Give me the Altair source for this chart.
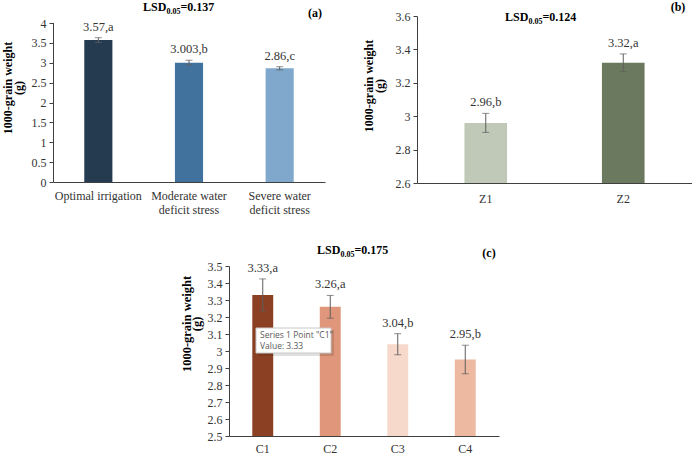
import altair as alt
import pandas as pd

SERIF = "Liberation Serif"
AXIS = "#404040"
TEXT = "#333333"
ERR = "#5e5e5e"

# (a) irrigation regime
irr_names = ["Optimal irrigation", "Moderate water deficit stress", "Severe water deficit stress"]
irr_mean = [3.57, 3.003, 2.86]
irr_err = [0.06, 0.06, 0.04]
irr_group = ["a", "b", "c"]
irr_colors = ["#243b50", "#41729d", "#7fa8cc"]
irr_ticks = [0, 0.5, 1, 1.5, 2, 2.5, 3, 3.5, 4]

# (b) zeolite
zeo_names = ["Z1", "Z2"]
zeo_mean = [2.96, 3.32]
zeo_err = [0.057, 0.053]
zeo_group = ["b", "a"]
zeo_colors = ["#c0c8b8", "#6b7a5e"]
zeo_ticks = [2.6, 2.8, 3.0, 3.2, 3.4, 3.6]

# (c) cultivar
cul_names = ["C1", "C2", "C3", "C4"]
cul_mean = [3.33, 3.26, 3.04, 2.95]
cul_err = [0.094, 0.067, 0.062, 0.084]
cul_group = ["a", "a", "b", "b"]
cul_colors = ["#8b4023", "#e0967a", "#f6d9cb", "#edb9a1"]
cul_ticks = [2.5, 2.6, 2.7, 2.8, 2.9, 3.0, 3.1, 3.2, 3.3, 3.4, 3.5]

Y_TITLE = ["1000-grain weight", "(g)"]

SPLIT_LABEL = (
    "indexof(datum.label, ' deficit') > 0 ? "
    "[slice(datum.label, 0, indexof(datum.label, ' deficit')), "
    "slice(datum.label, indexof(datum.label, ' deficit') + 1)] : datum.label"
)


def lsd_text(ann, lsd, x0, yc):
    """Bold 'LSD' with a subscript '0.05', followed by '=value'."""
    common = dict(font=SERIF, fontWeight="bold", color="black", align="left", baseline="alphabetic")
    main = ann.mark_text(text="LSD", fontSize=12, **common).encode(
        x=alt.value(x0), y=alt.value(yc + 4))
    sub = ann.mark_text(text="0.05", fontSize=8, **common).encode(
        x=alt.value(x0 + 23.5), y=alt.value(yc + 7))
    rest = ann.mark_text(text="=" + lsd, fontSize=12, **common).encode(
        x=alt.value(x0 + 37.5), y=alt.value(yc + 4))
    return [main, sub, rest]


def panel(names, mean, err, group, colors, ticks, width, height, lsd, tag,
          lsd_pos, tag_pos, title_pos, label_pad, title_size=12, top_pad=0, extra=()):
    df = pd.DataFrame({"name": names, "mean": mean, "err": err, "group": group})
    df["lo"] = df["mean"] - df["err"]
    df["hi"] = df["mean"] + df["err"]
    df["label"] = [f"{m},{g}" for m, g in zip(mean, group)]
    ymin, ymax = ticks[0], ticks[-1]
    # optional blank band above the top tick
    dom_max = ymax + top_pad * (ymax - ymin) / (height - top_pad)

    x = alt.X(
        "name:N", sort=names,
        scale=alt.Scale(paddingInner=0.69, paddingOuter=0.345),
        axis=alt.Axis(title=None, labelAngle=0, ticks=False, domainColor=AXIS,
                      labelFont=SERIF, labelFontSize=12, labelColor=TEXT,
                      labelPadding=label_pad, labelLimit=0, labelLineHeight=14,
                      labelExpr=SPLIT_LABEL),
    )
    y_axis = alt.Axis(
        values=ticks, format=".1~f", grid=False, title=None,
        domain=top_pad == 0, domainColor=AXIS, tickColor=AXIS, tickSize=4,
        labelFont=SERIF, labelFontSize=12, labelColor=TEXT, labelPadding=3,
    )
    y_scale = alt.Scale(domain=[ymin, dom_max], nice=False, zero=False)

    def yenc(field):
        return alt.Y(field, scale=y_scale, axis=y_axis)

    base = alt.Chart(df).encode(x=x)
    bars = base.mark_bar().encode(
        y=yenc("mean:Q"), y2=alt.datum(ymin),
        color=alt.Color("name:N", scale=alt.Scale(domain=names, range=colors), legend=None),
    )
    whisker = base.mark_rule(color=ERR, strokeWidth=1).encode(y=yenc("lo:Q"), y2="hi:Q")
    cap_lo = base.mark_tick(color=ERR, size=7, thickness=1).encode(y=yenc("lo:Q"))
    cap_hi = base.mark_tick(color=ERR, size=7, thickness=1).encode(y=yenc("hi:Q"))
    values = base.mark_text(font=SERIF, fontSize=12.5, color=TEXT, baseline="bottom", dy=-4).encode(
        y=yenc("hi:Q"), text="label:N")

    ann = alt.Chart(pd.DataFrame({"k": [0]}))
    tag_mark = ann.mark_text(text=tag, font=SERIF, fontWeight="bold", fontSize=12,
                             color="black", align="center", baseline="middle").encode(
        x=alt.value(tag_pos[0]), y=alt.value(tag_pos[1]))
    y_title = ann.mark_text(text=Y_TITLE, font=SERIF, fontWeight="bold", fontSize=title_size,
                            lineHeight=10.5, color="black", angle=270,
                            align="center", baseline="middle").encode(
        x=alt.value(title_pos[0]), y=alt.value(title_pos[1]))
    layers = [bars, whisker, cap_lo, cap_hi, values, *lsd_text(ann, lsd, *lsd_pos),
              tag_mark, y_title, *extra]
    if top_pad:
        # y axis line running from the lowest to the highest tick only
        layers.append(ann.mark_rule(color=AXIS, strokeWidth=1).encode(
            x=alt.value(0.5), y=alt.Y(datum=ymin, scale=y_scale, axis=y_axis),
            y2=alt.datum(ymax)))
    return alt.layer(*layers).properties(width=width, height=height)


def spacer(w, h):
    return alt.Chart(pd.DataFrame({"k": [0]})).mark_text(text="").encode(
        x=alt.value(0), y=alt.value(0)).properties(width=w, height=h)


# hover box left over on the C1 bar
box = alt.Chart(pd.DataFrame({"k": [0]}))
tip = [
    box.mark_rect(fill="black", opacity=0.12).encode(
        x=alt.value(29), x2=alt.value(105), y=alt.value(64), y2=alt.value(90)),
    box.mark_rect(fill="white", stroke="#c8c8c8", strokeWidth=1).encode(
        x=alt.value(27), x2=alt.value(102), y=alt.value(62), y2=alt.value(87)),
    box.mark_text(text='Series 1 Point "C1"', font="Open Sans", fontSize=8.5, color="#595959",
                  align="left", baseline="middle").encode(x=alt.value(31), y=alt.value(69)),
    box.mark_text(text="Value: 3.33", font="Open Sans", fontSize=8.5, color="#595959",
                  align="left", baseline="middle").encode(x=alt.value(31), y=alt.value(80)),
]

pa = panel(irr_names, irr_mean, irr_err, irr_group, irr_colors, irr_ticks, 272, 166,
           "0.137", "(a)", (90, -9), (262, -3), (-45, 72), 8, top_pad=7)
pb = panel(zeo_names, zeo_mean, zeo_err, zeo_group, zeo_colors, zeo_ticks, 275, 167,
           "0.124", "(b)", (88, 1), (261, -9), (-48, 70), 10)
pc = panel(cul_names, cul_mean, cul_err, cul_group, cul_colors, cul_ticks, 270, 170,
           "0.175", "(c)", (88, -16), (260, -13), (-42.5, 58), 7, title_size=12.5, extra=tip)

top = alt.ConcatChart(concat=[pa, pb], columns=2, spacing=38, align="none").resolve_scale(
    color="independent")
bottom = alt.hconcat(spacer(119, 1), pc, spacing=8).resolve_scale(color="independent")

chart = alt.vconcat(top, bottom, spacing=29).resolve_scale(color="independent").properties(
    padding={"left": 2, "top": 1, "right": 0, "bottom": 0}
).configure_view(stroke=None)

chart.save("out.html", embed_options={"renderer": "svg", "actions": False})
